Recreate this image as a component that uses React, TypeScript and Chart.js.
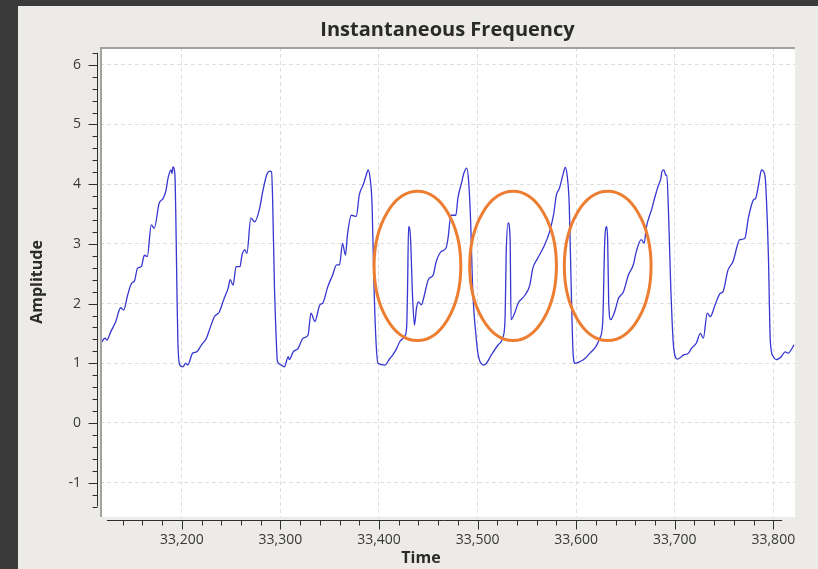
import React, { useEffect, useRef } from 'react';
import { Chart, registerables } from 'chart.js';

Chart.register(...registerables);

// ---- data ----
const TIME = [
  33118, 33122, 33124, 33128, 33133, 33138, 33141, 33145, 33149, 33152,
  33155, 33159, 33162, 33165, 33169, 33172, 33177, 33181, 33184, 33186,
  33189, 33190, 33191, 33193, 33194, 33195, 33196, 33198, 33201, 33204,
  33206, 33211, 33215, 33220, 33225, 33228, 33233, 33238, 33243, 33247,
  33249, 33252, 33255, 33259, 33261, 33264, 33266, 33270, 33274, 33279,
  33282, 33286, 33289, 33291, 33292, 33294, 33296, 33297, 33301, 33304,
  33308, 33309, 33313, 33318, 33323, 33328, 33331, 33335, 33340, 33343,
  33348, 33353, 33357, 33360, 33363, 33366, 33368, 33372, 33377, 33380,
  33384, 33387, 33389, 33391, 33393, 33395, 33397, 33399, 33406, 33411,
  33414, 33418, 33421, 33426, 33428, 33429, 33430, 33432, 33434, 33436,
  33438, 33440, 33443, 33446, 33450, 33455, 33458, 33463, 33468, 33470,
  33473, 33478, 33480, 33484, 33486, 33489, 33491, 33493, 33495, 33499,
  33501, 33506, 33509, 33514, 33521, 33526, 33528, 33529, 33531, 33533,
  33534, 33538, 33541, 33548, 33553, 33556, 33561, 33568, 33573, 33577,
  33580, 33583, 33587, 33589, 33591, 33593, 33595, 33597, 33599, 33604,
  33609, 33614, 33620, 33624, 33627, 33629, 33631, 33632, 33633, 33635,
  33639, 33643, 33648, 33653, 33658, 33661, 33666, 33669, 33671, 33677,
  33680, 33683, 33686, 33687, 33689, 33691, 33692, 33694, 33696, 33699,
  33703, 33709, 33714, 33717, 33722, 33726, 33729, 33733, 33736, 33741,
  33746, 33749, 33754, 33759, 33766, 33771, 33775, 33780, 33782, 33785,
  33787, 33788, 33791, 33792, 33795, 33797, 33800, 33803, 33808, 33812,
  33815, 33819, 33821,
];

const AMPLITUDE = [
  1.34, 1.42, 1.39, 1.53, 1.70, 1.93, 1.89, 2.14, 2.34, 2.38,
  2.59, 2.62, 2.81, 2.79, 3.32, 3.26, 3.68, 3.76, 3.90, 4.10,
  4.24, 4.18, 4.29, 4.15, 3.37, 2.26, 1.36, 0.97, 0.94, 1.00,
  0.97, 1.17, 1.19, 1.31, 1.42, 1.56, 1.78, 1.86, 2.09, 2.26,
  2.40, 2.31, 2.62, 2.62, 2.81, 2.90, 2.84, 3.43, 3.37, 3.60,
  3.87, 4.15, 4.22, 4.21, 3.82, 2.26, 1.31, 1.03, 0.97, 0.94,
  1.11, 1.06, 1.19, 1.25, 1.42, 1.47, 1.84, 1.70, 1.98, 2.01,
  2.28, 2.48, 2.65, 2.65, 3.01, 2.81, 3.15, 3.48, 3.46, 3.82,
  3.99, 4.15, 4.24, 4.10, 3.65, 2.26, 1.36, 1.00, 0.97, 1.08,
  1.14, 1.25, 1.36, 1.45, 1.59, 2.26, 3.29, 3.09, 2.14, 1.64,
  1.92, 2.03, 1.98, 2.14, 2.40, 2.48, 2.70, 2.87, 2.93, 3.09,
  3.48, 3.48, 3.76, 4.04, 4.18, 4.27, 4.04, 3.37, 2.26, 1.36,
  1.11, 0.97, 1.00, 1.14, 1.31, 1.45, 1.81, 2.81, 3.35, 3.09,
  1.73, 1.86, 2.00, 2.14, 2.31, 2.59, 2.76, 2.98, 3.20, 3.48,
  3.82, 3.93, 4.18, 4.28, 4.13, 3.65, 2.26, 1.14, 1.00, 1.03,
  1.08, 1.17, 1.28, 1.42, 1.70, 3.04, 3.29, 3.04, 2.03, 1.73,
  1.86, 2.09, 2.20, 2.48, 2.65, 2.87, 3.07, 3.01, 3.26, 3.60,
  3.79, 3.96, 4.10, 4.21, 4.24, 4.15, 4.15, 3.37, 2.26, 1.25,
  1.07, 1.14, 1.17, 1.25, 1.34, 1.50, 1.42, 1.84, 1.78, 1.98,
  2.17, 2.20, 2.56, 2.70, 3.07, 3.09, 3.46, 3.74, 3.76, 3.99,
  4.18, 4.24, 4.18, 4.07, 2.81, 1.36, 1.11, 1.06, 1.11, 1.19,
  1.17, 1.25, 1.31,
];

const X_TICKS = [33200, 33300, 33400, 33500, 33600, 33700, 33800];
const Y_TICKS = [-1, 0, 1, 2, 3, 4, 5, 6];

// highlighted spikes (orange ellipses), in data units
const HIGHLIGHT_TIMES = [33439, 33536, 33632];
const HIGHLIGHT_AMPLITUDE = 2.63;
const HIGHLIGHT_HALF_WIDTH = 44;
const HIGHLIGHT_HALF_HEIGHT = 1.25;

// axis extents
const X_VIEW = [33117, 33822];
const Y_VIEW = [-1.575, 6.298];
const X_SCALE_RANGE = [33124, 33809];
const Y_SCALE_RANGE = [-1.4, 6.2];

const FONT = 'Open Sans';
const TEXT = '#383838';

const decorPlugin = {
  id: 'decor',
  beforeDraw(chart: any) {
    const { ctx, chartArea: a, width, height } = chart;
    ctx.save();
    ctx.fillStyle = '#edebe7';
    ctx.fillRect(0, 0, width, height);
    ctx.fillStyle = '#ffffff';
    ctx.fillRect(a.left, a.top, a.right - a.left, a.bottom - a.top);
    ctx.restore();
  },
  afterDatasetsDraw(chart: any) {
    const { ctx, scales } = chart;
    const xs = scales.x;
    const ys = scales.y;
    ctx.save();
    ctx.strokeStyle = '#ED7D31';
    ctx.lineWidth = 3;
    HIGHLIGHT_TIMES.forEach((t) => {
      const cx = xs.getPixelForValue(t);
      const cy = ys.getPixelForValue(HIGHLIGHT_AMPLITUDE);
      const rx = Math.abs(xs.getPixelForValue(t + HIGHLIGHT_HALF_WIDTH) - cx);
      const ry = Math.abs(ys.getPixelForValue(HIGHLIGHT_AMPLITUDE + HIGHLIGHT_HALF_HEIGHT) - cy);
      ctx.beginPath();
      ctx.ellipse(cx, cy, rx, ry, 0, 0, Math.PI * 2);
      ctx.stroke();
    });
    ctx.restore();
  },
  afterDraw(chart: any) {
    const { ctx, chartArea: a, scales } = chart;
    const xs = scales.x;
    const ys = scales.y;
    ctx.save();
    // sunken frame of the plot canvas
    ctx.strokeStyle = '#a2a2a0';
    ctx.lineWidth = 2;
    ctx.beginPath();
    ctx.moveTo(a.left + 1, a.bottom);
    ctx.lineTo(a.left + 1, a.top + 1);
    ctx.lineTo(a.right, a.top + 1);
    ctx.stroke();

    ctx.strokeStyle = '#2e2e2e';
    ctx.lineWidth = 1;
    // y axis backbone + ticks
    const yx = Math.round(a.left - 3) + 0.5;
    ctx.beginPath();
    ctx.moveTo(yx, ys.getPixelForValue(Y_SCALE_RANGE[1]));
    ctx.lineTo(yx, ys.getPixelForValue(Y_SCALE_RANGE[0]));
    for (let k = Math.round(Y_SCALE_RANGE[0] * 5); k <= Math.round(Y_SCALE_RANGE[1] * 5); k++) {
      const v = k / 5;
      const py = Math.round(ys.getPixelForValue(v)) + 0.5;
      const len = k % 5 === 0 ? 9 : 5;
      ctx.moveTo(yx, py);
      ctx.lineTo(yx - len, py);
    }
    ctx.stroke();
    // x axis backbone + ticks
    const xy = Math.round(a.bottom + 3) + 0.5;
    ctx.beginPath();
    ctx.moveTo(xs.getPixelForValue(X_SCALE_RANGE[0]), xy);
    ctx.lineTo(xs.getPixelForValue(X_SCALE_RANGE[1]), xy);
    for (let t = Math.ceil(X_SCALE_RANGE[0] / 20) * 20; t <= X_SCALE_RANGE[1]; t += 20) {
      const px = Math.round(xs.getPixelForValue(t)) + 0.5;
      const len = t % 100 === 0 ? 9 : 5;
      ctx.moveTo(px, xy);
      ctx.lineTo(px, xy + len);
    }
    ctx.stroke();

    // x axis title
    ctx.fillStyle = '#2a2a2a';
    ctx.font = `bold 16px "${FONT}"`;
    ctx.textAlign = 'center';
    ctx.textBaseline = 'middle';
    ctx.fillText('Time', 403, 552);
    ctx.restore();
  },
};

export default function App() {
  const ref = useRef<HTMLCanvasElement>(null);

  useEffect(() => {
    if (!ref.current) return;
    const points = TIME.map((t, i) => ({ x: t, y: AMPLITUDE[i] }));
    const chart = new Chart(ref.current, {
      type: 'line',
      data: {
        datasets: [
          {
            data: points,
            borderColor: '#3636d0',
            borderWidth: 1.3,
            pointRadius: 0,
            fill: false,
            cubicInterpolationMode: 'monotone',
          },
        ],
      },
      options: {
        responsive: false,
        animation: false,
        events: [],
        layout: { padding: { left: 0, right: 23, top: 0, bottom: 0 } },
        plugins: {
          legend: { display: false },
          tooltip: { enabled: false },
          title: {
            display: true,
            text: 'Instantaneous Frequency',
            fullSize: false,
            color: '#2a2a2a',
            font: { family: FONT, size: 20, weight: 'bold' },
            padding: { top: 12, bottom: 5 },
          },
        },
        scales: {
          x: {
            type: 'linear',
            min: X_VIEW[0],
            max: X_VIEW[1],
            afterBuildTicks: (s: any) => {
              s.ticks = X_TICKS.map((v) => ({ value: v }));
            },
            afterFit: (s: any) => {
              s.height = 52;
            },
            ticks: {
              autoSkip: false,
              maxRotation: 0,
              padding: 15,
              color: TEXT,
              font: { family: FONT, size: 14 },
              callback: (v: any) => Number(v).toLocaleString('en-US'),
            },
            grid: { color: '#dedede', lineWidth: 1, drawTicks: false, tickLength: 0 },
            border: { display: false, dash: [4, 3] },
          },
          y: {
            type: 'linear',
            min: Y_VIEW[0],
            max: Y_VIEW[1],
            afterBuildTicks: (s: any) => {
              s.ticks = Y_TICKS.map((v) => ({ value: v }));
            },
            afterFit: (s: any) => {
              s.width = 82;
            },
            ticks: {
              autoSkip: false,
              padding: 19,
              color: TEXT,
              font: { family: FONT, size: 14 },
              callback: (v: any) => String(v),
            },
            grid: { color: '#dedede', lineWidth: 1, drawTicks: false, tickLength: 0 },
            border: { display: false, dash: [4, 3] },
            title: {
              display: true,
              text: 'Amplitude',
              color: '#2a2a2a',
              font: { family: FONT, size: 16, weight: 'bold' },
              padding: { top: 10, bottom: 0 },
            },
          },
        },
      },
      plugins: [decorPlugin],
    } as any);
    return () => chart.destroy();
  }, []);

  return (
    <div style={{ position: 'fixed', left: 0, top: 0, width: 818, height: 569, background: '#3a3a3a' }}>
      <div style={{ position: 'absolute', left: 18, top: 6, width: 800, height: 563 }}>
        <canvas ref={ref} width={800} height={563} style={{ display: 'block' }} />
      </div>
    </div>
  );
}
